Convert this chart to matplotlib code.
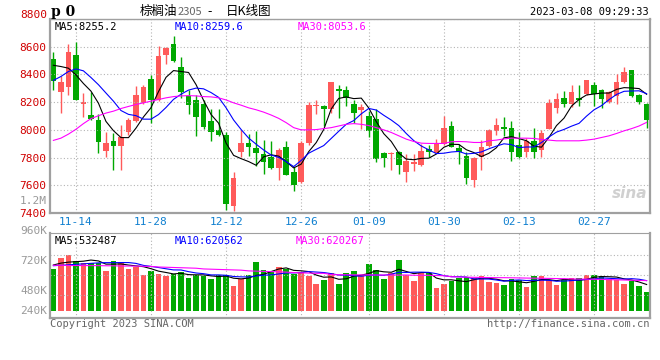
import numpy as np
import pandas as pd
import matplotlib
matplotlib.use("Agg")
import matplotlib.pyplot as plt

# ==========================================
# Data (palm oil 2305, daily K)
# ==========================================
dates = ["11-09", "11-10", "11-11", "11-14", "11-15", "11-16", "11-17", "11-18", "11-21", "11-22",
         "11-23", "11-24", "11-25", "11-28", "11-29", "11-30", "12-01", "12-02", "12-05", "12-06",
         "12-07", "12-08", "12-09", "12-12", "12-13", "12-14", "12-15", "12-16", "12-19", "12-20",
         "12-21", "12-22", "12-23", "12-26", "12-27", "12-28", "12-29", "12-30", "01-03", "01-04",
         "01-05", "01-06", "01-09", "01-10", "01-11", "01-12", "01-13", "01-16", "01-17", "01-18",
         "01-19", "01-20", "01-30", "01-31", "02-01", "02-02", "02-03", "02-06", "02-07", "02-08",
         "02-09", "02-10", "02-13", "02-14", "02-15", "02-16", "02-17", "02-20", "02-21", "02-22",
         "02-23", "02-24", "02-27", "02-28", "03-01", "03-02", "03-03", "03-06", "03-07", "03-08"]
tick_dates = ["11-14", "11-28", "12-12", "12-26", "01-09", "01-30", "02-13", "02-27"]

opens = [8510, 8276, 8307, 8538, 8190, 8109, 8073, 7847, 7916, 7883,
         7988, 8062, 8195, 8366, 8219, 8540, 8616, 8452, 8247, 8212,
         8183, 8064, 8002, 7966, 7454, 7840, 7902, 7869, 7826, 7807,
         7726, 7873, 7695, 7623, 7902, 8169, 8174, 8154, 8295, 8288,
         8186, 8140, 8102, 8081, 7831, 7824, 7840, 7695, 7752, 7747,
         7859, 7835, 7897, 8028, 7866, 7814, 7640, 7802, 7883, 7990,
         8024, 8017, 7888, 7838, 7921, 7855, 8009, 8159, 8231, 8183,
         8231, 8259, 8326, 8290, 8200, 8245, 8345, 8431, 8250, 8188]
closes = [8350, 8345, 8559, 8219, 8200, 8076, 7909, 7902, 7883, 7952,
          8073, 8252, 8307, 8216, 8533, 8588, 8495, 8273, 8181, 8095,
          8021, 7981, 7964, 7462, 7652, 7902, 7876, 7831, 7766, 7726,
          7854, 7676, 7604, 7904, 8176, 8181, 8147, 8347, 8283, 8231,
          8119, 8166, 7990, 7790, 7797, 7836, 7747, 7774, 7769, 7845,
          7843, 7897, 8017, 7878, 7838, 7652, 7795, 7873, 7997, 8038,
          8009, 7838, 7802, 7921, 7840, 7974, 8195, 8224, 8190, 8274,
          8212, 8359, 8259, 8224, 8274, 8345, 8421, 8247, 8202, 8069]
highs = [8564, 8386, 8616, 8631, 8266, 8273, 8112, 7988, 7978, 8035,
         8088, 8319, 8323, 8397, 8607, 8600, 8678, 8528, 8290, 8254,
         8212, 8147, 8147, 7981, 7695, 8000, 7969, 7993, 7926, 7921,
         7866, 7916, 7731, 7916, 8202, 8216, 8181, 8347, 8326, 8316,
         8219, 8188, 8136, 8147, 7838, 7843, 7850, 7826, 7826, 7897,
         7890, 7933, 8100, 8064, 7897, 7838, 7802, 7926, 8004, 8088,
         8095, 8064, 7981, 7940, 8017, 7997, 8224, 8267, 8283, 8326,
         8326, 8362, 8343, 8297, 8283, 8402, 8454, 8431, 8259, 8195]
lows = [8290, 8119, 8254, 8212, 8092, 8071, 7831, 7802, 7712, 7712,
        7964, 8057, 8188, 8052, 8207, 8476, 8493, 8231, 8112, 7954,
        8004, 7916, 7954, 7421, 7416, 7802, 7814, 7742, 7678, 7719,
        7640, 7671, 7557, 7619, 7888, 8112, 8026, 8124, 8088, 8171,
        8052, 8004, 7952, 7766, 7731, 7712, 7678, 7621, 7702, 7742,
        7802, 7831, 7893, 7873, 7754, 7612, 7588, 7707, 7873, 7964,
        7957, 7773, 7797, 7807, 7797, 7802, 8009, 8124, 8164, 8164,
        8171, 8254, 8171, 8159, 8195, 8188, 8338, 8240, 8183, 8012]

ma5_head = [8466, 8457, 8445, 8397]
ma10_head = [8357, 8385, 8421, 8440, 8426, 8378, 8326, 8266, 8207]
ma30 = [7924, 7940, 7969, 8004, 8045, 8081, 8102, 8121, 8135, 8154,
        8169, 8183, 8195, 8207, 8219, 8231, 8240, 8245, 8247, 8245,
        8240, 8238, 8231, 8216, 8195, 8178, 8159, 8145, 8128, 8107,
        8083, 8052, 8016, 8000, 8000, 8002, 8009, 8016, 8028, 8040,
        8045, 8040, 8031, 8016, 8000, 7981, 7957, 7933, 7916, 7904,
        7902, 7902, 7902, 7914, 7916, 7914, 7909, 7909, 7921, 7926,
        7935, 7940, 7940, 7940, 7938, 7931, 7926, 7921, 7921, 7921,
        7921, 7926, 7933, 7945, 7957, 7974, 7993, 8009, 8028, 8054]

# volume in thousands of lots
volumes = [859, 1079, 1147, 1024, 989, 976, 989, 818, 1024, 1009,
           859, 906, 735, 818, 756, 721, 756, 803, 680, 735,
           715, 653, 735, 735, 509, 647, 735, 1009, 838, 803,
           906, 853, 756, 791, 721, 550, 632, 783, 550, 770,
           818, 735, 962, 838, 653, 770, 1044, 735, 612, 770,
           770, 474, 550, 618, 667, 688, 667, 715, 597, 577,
           529, 647, 632, 494, 721, 715, 632, 529, 632, 667,
           667, 735, 735, 715, 647, 632, 550, 618, 509, 391]
vol_ma5_head = [941, 980, 1000, 1010]
vol_ma10_head = [927, 935, 945, 955, 965, 975, 985, 990, 990]
vol_ma30 = [935, 935, 930, 930, 930, 928, 928, 925, 925, 920,
            920, 918, 915, 912, 900, 895, 890, 885, 880, 875,
            860, 855, 850, 845, 840, 835, 820, 815, 810, 805,
            800, 795, 785, 780, 775, 770, 770, 745, 740, 740,
            738, 738, 738, 735, 735, 735, 735, 735, 730, 730,
            728, 725, 720, 700, 695, 690, 688, 685, 683, 680,
            680, 678, 675, 672, 670, 668, 665, 662, 660, 655,
            652, 650, 648, 645, 640, 636, 632, 628, 624, 620]

price_ticks = [7400, 7600, 7800, 8000, 8200, 8400, 8600, 8800]
vol_labels = ["1.2M", "960K", "720K", "480K", "240K"]

# ==========================================
# Styling
# ==========================================
W, H = 660, 360
RED = "#ff5a5a"
GREEN = "#00a800"
FRAME = "#a0a0a0"
GRID = "#b4b4b4"
MONO = "DejaVu Sans Mono"
CJK = ["Noto Sans CJK SC", "DejaVu Sans"]


def px_rect(l, t, r, b):
    return [l / W, 1 - b / H, (r - l) / W, (b - t) / H]


def fx(x):
    return x / W


def fy(y):
    return 1 - y / H


n = len(closes)
x = np.arange(n)
o = np.array(opens, float)
c = np.array(closes, float)
hi = np.array(highs, float)
lo = np.array(lows, float)
up = c >= o
colors = np.where(up, RED, GREEN)

ma5 = pd.Series(c).rolling(5).mean().to_numpy()
ma5[:len(ma5_head)] = ma5_head
ma10 = pd.Series(c).rolling(10).mean().to_numpy()
ma10[:len(ma10_head)] = ma10_head

vol = np.array(volumes, float) * 1000
vma5 = pd.Series(vol).rolling(5).mean().to_numpy()
vma5[:len(vol_ma5_head)] = np.array(vol_ma5_head) * 1000
vma10 = pd.Series(vol).rolling(10).mean().to_numpy()
vma10[:len(vol_ma10_head)] = np.array(vol_ma10_head) * 1000
vma30 = np.array(vol_ma30, float) * 1000

tick_idx = [dates.index(d) for d in tick_dates]

fig = plt.figure(figsize=(W / 100, H / 100), dpi=100)
fig.patch.set_facecolor("white")

# ---------------- price panel ----------------
ax = fig.add_axes(px_rect(50, 19, 650, 213))
ax.set_xlim(-0.45, n - 0.55)
ax.set_ylim(price_ticks[0], price_ticks[-1])

ax.vlines(x, lo, hi, colors=colors, linewidth=1)
body = np.maximum(np.abs(c - o), 6)
ax.bar(x, body, bottom=np.minimum(o, c), width=0.76, color=colors, linewidth=0)

ax.plot(x, ma5, color="black", lw=0.8)
ax.plot(x, ma10, color="#0000ff", lw=0.8)
ax.plot(x, ma30, color="#ff00ff", lw=0.8)

ax.set_yticks(price_ticks)
# the top label sits a few pixels above the frame in the original, drawn separately below
ax.set_yticklabels([str(v) for v in price_ticks[:-1]] + [""], color="#d00000",
                   fontfamily=MONO, fontsize=8)
ax.set_xticks(tick_idx)
ax.set_xticklabels(tick_dates, color="#1080d0", fontfamily=MONO, fontsize=8)
ax.tick_params(length=0, pad=3)
ax.grid(True, color=GRID, linestyle=(0, (1, 2)), linewidth=0.8)
for s in ax.spines.values():
    s.set_color(FRAME)
ax.spines["left"].set_linewidth(1.6)
ax.spines["bottom"].set_linewidth(1.6)
ax.spines["top"].set_linewidth(1.0)
ax.spines["right"].set_linewidth(1.6)
fig.text(fx(47), fy(15), str(price_ticks[-1]), ha="right", va="center",
         fontfamily=MONO, fontsize=8, color="#d00000")

ax.text(0.007, 0.985, "MA5:8255.2", transform=ax.transAxes, ha="left", va="top",
        fontfamily=MONO, fontsize=7.5, color="black")
ax.text(0.208, 0.985, "MA10:8259.6", transform=ax.transAxes, ha="left", va="top",
        fontfamily=MONO, fontsize=7.5, color="#0000ff")
ax.text(0.413, 0.985, "MA30:8053.6", transform=ax.transAxes, ha="left", va="top",
        fontfamily=MONO, fontsize=7.5, color="#ff00ff")
# sina watermark
ax.text(0.995, 0.06, "sina", transform=ax.transAxes, ha="right", va="bottom",
        fontsize=11, fontweight="bold", style="italic", color="#d0d0d0")

# ---------------- volume panel ----------------
vax = fig.add_axes(px_rect(50, 233, 650, 318))
vax.set_xlim(-0.45, n - 0.55)
vax.set_ylim(-150e3, 1600e3)
vax.bar(x, vol, width=0.76, color=colors, linewidth=0)
vax.plot(x, vma5, color="black", lw=0.8)
vax.plot(x, vma10, color="#0000ff", lw=0.8)
vax.plot(x, vma30, color="#ff00ff", lw=0.8)
vax.set_xticks(tick_idx)
vax.set_xticklabels([])
vax.set_yticks([323e3, 735e3, 1147e3])
vax.set_yticklabels([])
vax.tick_params(length=0)
vax.grid(True, color=GRID, linestyle=(0, (1, 2)), linewidth=0.8)
for s in vax.spines.values():
    s.set_color(FRAME)
vax.spines["left"].set_linewidth(1.6)
vax.spines["bottom"].set_linewidth(1.6)
vax.spines["right"].set_linewidth(1.6)

vax.text(0.007, 0.97, "MA5:532487", transform=vax.transAxes, ha="left", va="top",
         fontfamily=MONO, fontsize=7.5, color="black")
vax.text(0.208, 0.97, "MA10:620562", transform=vax.transAxes, ha="left", va="top",
         fontfamily=MONO, fontsize=7.5, color="#0000ff")
vax.text(0.41, 0.97, "MA30:620267", transform=vax.transAxes, ha="left", va="top",
         fontfamily=MONO, fontsize=7.5, color="#ff00ff")

for lab, ypx in zip(vol_labels, [201, 231, 261, 291, 311]):
    fig.text(fx(47), fy(ypx), lab, ha="right", va="center", fontfamily=MONO,
             fontsize=8, color="#999999")

# ---------------- header / footer ----------------
fig.text(fx(51), fy(12), "p 0", ha="left", va="center", fontsize=10,
         fontweight="bold", fontfamily="DejaVu Serif", color="black")
fig.text(fx(140), fy(12), "棕榈油", ha="left", va="center", fontsize=9,
         family=CJK, color="black")
fig.text(fx(178), fy(12), "2305", ha="left", va="center", fontsize=8,
         family=CJK, color="#666666")
fig.text(fx(207), fy(12), "-", ha="left", va="center", fontsize=9,
         family=CJK, color="black")
fig.text(fx(226), fy(12), "日K线图", ha="left", va="center", fontsize=9,
         family=CJK, color="black")
fig.text(fx(649), fy(12), "2023-03-08 09:29:33", ha="right", va="center",
         fontfamily=MONO, fontsize=7.5, color="black")
fig.text(fx(50), fy(324), "Copyright 2023 SINA.COM", ha="left", va="center",
         fontfamily=MONO, fontsize=7.5, color="#666666")
fig.text(fx(649), fy(324), "http://finance.sina.com.cn", ha="right", va="center",
         fontfamily=MONO, fontsize=7.5, color="#666666")

fig.savefig("out.png", dpi=100)
